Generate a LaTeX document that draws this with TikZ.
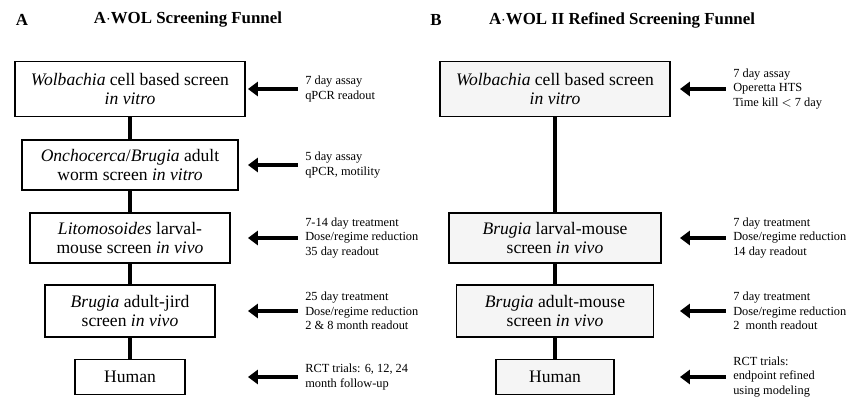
\documentclass[tikz,border=0pt]{standalone}
\usepackage{fontspec}
\setmainfont{Liberation Serif}
\usetikzlibrary{arrows.meta}
\tikzset{
    stage/.style={draw, line width=1.2pt, align=center, font=\fontsize{12.5}{13.5}\selectfont, inner sep=2pt},
    refined/.style={stage, fill=black!4},
    note/.style={align=left, anchor=west, font=\fontsize{8.8}{10.2}\selectfont, inner sep=0pt},
    title/.style={font=\bfseries\fontsize{12}{13}\selectfont},
    link/.style={line width=3.2pt},
    feed/.style={line width=2.4pt, -{Triangle[length=7pt,width=10pt]}},
}
\begin{document}
\begin{tikzpicture}[x=0.025cm,y=-0.025cm]
    \useasboundingbox (0,0) rectangle (850,413);
    \node[title] at (22,20) {A};
    \node[title] at (188,20) {A$\cdot$WOL Screening Funnel};
    \node[title] at (436,20) {B};
    \node[title] at (622,20) {A$\cdot$WOL II Refined Screening Funnel};

    % panel A
    \node[stage, minimum width=230*0.025cm, minimum height=55*0.025cm] (a1) at (130,89) {\textit{Wolbachia} cell based screen\\\textit{in vitro}};
    \node[stage, minimum width=216*0.025cm, minimum height=50*0.025cm] (a2) at (130,165) {\textit{Onchocerca}/\textit{Brugia} adult\\worm screen \textit{in vitro}};
    \node[stage, minimum width=200*0.025cm, minimum height=50*0.025cm] (a3) at (130,238) {\textit{Litomosoides} larval-\\mouse screen \textit{in vivo}};
    \node[stage, minimum width=170*0.025cm, minimum height=52*0.025cm] (a4) at (130,311) {\textit{Brugia} adult-jird\\screen \textit{in vivo}};
    \node[stage, minimum width=110*0.025cm, minimum height=35*0.025cm] (a5) at (130,377) {Human};
    \foreach \u/\v in {a1/a2,a2/a3,a3/a4,a4/a5}
        \draw[link] (\u) -- (\v);

    \node[note] (na1) at (305,89) {7 day assay\\qPCR readout};
    \node[note] (na2) at (305,165) {5 day assay\\qPCR, motility};
    \node[note] (na3) at (305,238) {7-14 day treatment\\Dose/regime reduction\\35 day readout};
    \node[note] (na4) at (305,311) {25 day treatment\\Dose/regime reduction\\2 \& 8 month readout};
    \node[note] (na5) at (305,377) {RCT trials: 6, 12, 24\\month follow-up};
    \foreach \i in {1,...,5}
        \draw[feed] ([xshift=-5pt]na\i.west) -- (248,0 |- na\i.west);

    % panel B
    \node[refined, minimum width=230*0.025cm, minimum height=55*0.025cm] (b1) at (555,89) {\textit{Wolbachia} cell based screen\\\textit{in vitro}};
    \node[refined, minimum width=212*0.025cm, minimum height=50*0.025cm] (b2) at (555,238) {\textit{Brugia} larval-mouse\\screen \textit{in vivo}};
    \node[refined, minimum width=197*0.025cm, minimum height=52*0.025cm] (b3) at (555,311) {\textit{Brugia} adult-mouse\\screen \textit{in vivo}};
    \node[refined, minimum width=118*0.025cm, minimum height=35*0.025cm] (b4) at (555,377) {Human};
    \foreach \u/\v in {b1/b2,b2/b3,b3/b4}
        \draw[link] (\u) -- (\v);

    \node[note] (nb1) at (733,89) {7 day assay\\Operetta HTS\\Time kill $<$ 7 day};
    \node[note] (nb2) at (733,238) {7 day treatment\\Dose/regime reduction\\14 day readout};
    \node[note] (nb3) at (733,311) {7 day treatment\\Dose/regime reduction\\2\ \ month readout};
    \node[note] (nb4) at (733,377) {RCT trials:\\endpoint refined\\using modeling};
    \foreach \i in {1,...,4}
        \draw[feed] ([xshift=-5pt]nb\i.west) -- (680,0 |- nb\i.west);
\end{tikzpicture}
\end{document}
